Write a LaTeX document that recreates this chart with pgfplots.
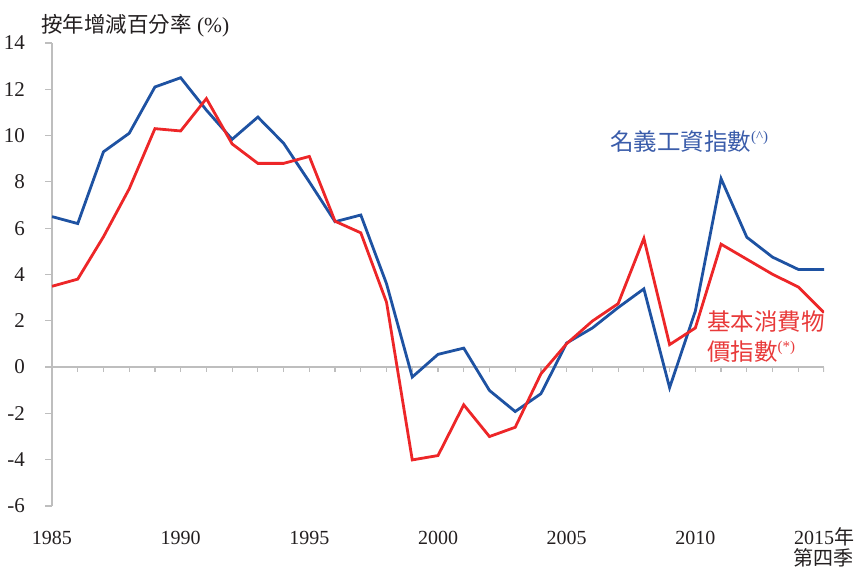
\documentclass[border=0pt]{standalone}
\usepackage{pgfplots}
\pgfplotsset{compat=1.18}
\usepackage{fontspec}
\setmainfont{Liberation Serif}
\newfontfamily\cjk{Noto Sans CJK TC}
\definecolor{wageblue}{RGB}{30,82,162}
\definecolor{cpired}{RGB}{237,38,40}
\definecolor{wagetext}{RGB}{58,92,170}
\definecolor{cpitext}{RGB}{232,58,58}
\definecolor{axisgray}{RGB}{190,190,190}
\definecolor{txt}{RGB}{35,31,32}
\begin{document}
\begin{tikzpicture}
\path[use as bounding box] (-52pt,-63pt) rectangle (804pt,506pt);
\begin{axis}[
  scale only axis, width=772pt, height=463pt,
  xmin=1985, xmax=2015, ymin=-6, ymax=14,
  axis lines*=left,
  x axis line style={draw=none},
  y axis line style={draw=axisgray, line width=1.2pt},
  xtick={1985,1990,1995,2000,2005,2010,2015},
  xticklabels={1985,1990,1995,2000,2005,2010,{2015{\cjk 年}}},
  xtick style={draw=none},
  ytick={-6,-4,-2,0,2,4,6,8,10,12,14},
  yticklabels={-6,-4,-2,0,2,4,6,8,10,12,14},
  ytick style={draw=axisgray, line width=1.2pt},
  tick align=outside, major tick length=7pt,
  xticklabel style={font=\fontsize{20}{22}\selectfont, text=txt, anchor=base, inner sep=0pt, yshift=-32pt},
  yticklabel style={font=\fontsize{21}{23}\selectfont, text=txt, anchor=east, inner sep=0pt, xshift=-20pt},
]
\draw[axisgray, line width=1.2pt] (axis cs:1985,0) -- (axis cs:2015,0);
\pgfplotsinvokeforeach{1985,...,2015}{\draw[axisgray, line width=1.2pt] (axis cs:#1,0) -- ([yshift=-5pt]axis cs:#1,0);}
\addplot[wageblue, line width=2.8pt] coordinates {
(1985,6.5) (1986,6.2) (1987,9.3) (1988,10.1) (1989,12.1) (1990,12.5)
(1991,11.1) (1992,9.84) (1993,10.8) (1994,9.67) (1995,8.0) (1996,6.28)
(1997,6.57) (1998,3.6) (1999,-0.43) (2000,0.55) (2001,0.82) (2002,-1.01)
(2003,-1.92) (2004,-1.15) (2005,1.04) (2006,1.69) (2007,2.57) (2008,3.38)
(2009,-0.89) (2010,2.42) (2011,8.14) (2012,5.61) (2013,4.75) (2014,4.22) (2015,4.22)
};
\addplot[cpired, line width=2.8pt] coordinates {
(1985,3.49) (1986,3.8) (1987,5.63) (1988,7.7) (1989,10.3) (1990,10.2)
(1991,11.6) (1992,9.64) (1993,8.8) (1994,8.8) (1995,9.1) (1996,6.3)
(1997,5.8) (1998,2.8) (1999,-4.01) (2000,-3.82) (2001,-1.63) (2002,-3.0)
(2003,-2.6) (2004,-0.29) (2005,1.01) (2006,1.99) (2007,2.74) (2008,5.56)
(2009,0.97) (2010,1.69) (2011,5.31) (2012,4.66) (2013,4.01) (2014,3.46) (2015,2.35)
};
\end{axis}
\node[anchor=base west, inner sep=0pt, text=txt, font=\fontsize{21.5}{23}\selectfont] at (-11pt,473pt) {{\cjk 按年增減百分率} (\%)};
\node[anchor=base west, inner sep=0pt, text=wagetext, font=\fontsize{23.5}{26}\selectfont] at (558pt,355pt) {{\cjk 名義工資指數}\raisebox{0.4em}{\fontsize{15}{16}\selectfont(\textasciicircum)}};
\node[anchor=base west, inner sep=0pt, text=cpitext, font=\fontsize{23.5}{26}\selectfont] at (655pt,175pt) {\cjk 基本消費物};
\node[anchor=base west, inner sep=0pt, text=cpitext, font=\fontsize{23.5}{26}\selectfont] at (655pt,145pt) {{\cjk 價指數}\raisebox{0.4em}{\fontsize{15}{16}\selectfont(*)}};
\node[anchor=base, inner sep=0pt, text=txt, font=\fontsize{20}{22}\selectfont] at (771.5pt,-60pt) {\cjk 第四季};
\end{tikzpicture}
\end{document}
